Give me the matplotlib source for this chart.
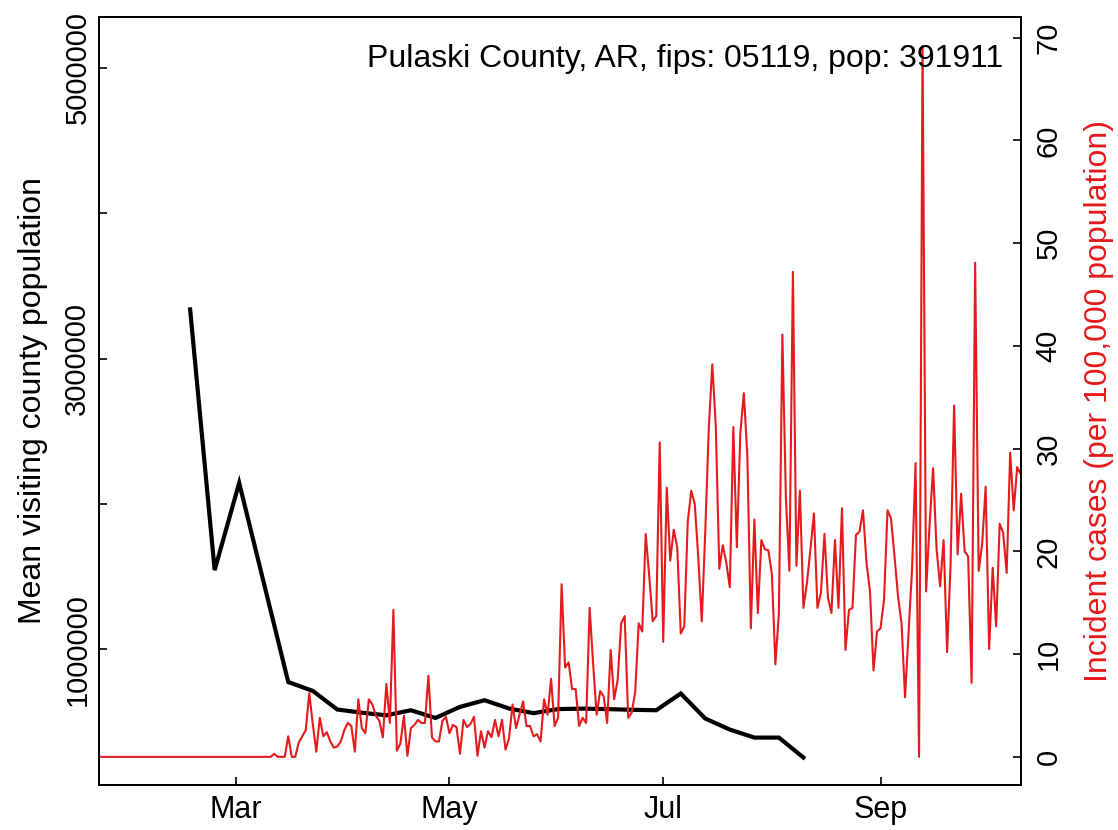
import numpy as np
import pandas as pd
import matplotlib
matplotlib.use("Agg")
import matplotlib.pyplot as plt

plt.rcParams['font.family'] = ['Liberation Sans', 'DejaVu Sans']

# ---------------- data ----------------
title_text = "Pulaski County, AR, fips: 05119, pop: 391911"
left_label = "Mean visiting county population"
right_label = "Incident cases (per 100,000 population)"

# weekly mean visiting county population (starting 2020-02-17)
visit_start = "2020-02-17"
visit_values = [3338000, 1545000, 2145000, 1460000, 776000, 715000, 587000,
                565000, 547000, 582000, 529000, 605000, 651000, 594000,
                562000, 590000, 593000, 590000, 585000, 582000, 697000,
                525000, 449000, 394000, 394000, 257000]

# daily incident cases per 100,000 (starting 2020-01-22)
case_start = "2020-01-22"
cases_early_zero = 50  # Jan 22 .. Mar 11 all zero
case_values = [0.0] * cases_early_zero + [
    0.3, 0, 0, 0, 2.0, 0, 0, 1.4, 2.0, 2.6,                       # Mar 12-21
    6.2, 3.2, 0.5, 3.8, 2.0, 2.4, 1.5, 0.9, 1.0, 1.5,             # Mar 22-31
    2.6, 3.3, 3.0, 0.5, 5.6, 2.8, 2.3, 5.6, 5.1, 4.0,             # Apr 1-10
    3.5, 1.9, 7.1, 3.3, 14.3, 0.6, 1.3, 4.0, 0.1, 2.8,            # Apr 11-20
    3.1, 3.6, 3.3, 3.3, 7.9, 1.9, 1.5, 1.5, 3.5, 3.9,             # Apr 21-30
    2.3, 3.1, 2.9, 0.3, 3.6, 2.9, 3.2, 3.9, 0.1, 2.5,             # May 1-10
    0.9, 2.5, 1.9, 3.6, 2.0, 3.6, 0.7, 1.8, 5.1, 2.8,             # May 11-20
    4.1, 5.4, 3.0, 3.0, 2.0, 2.2, 1.5, 5.6, 4.1, 7.6,             # May 21-30
    3.0, 3.8, 16.8, 8.7, 9.2, 6.6, 6.6, 3.0, 3.8, 3.3,            # May 31-Jun 9
    14.5, 9.0, 4.1, 6.4, 5.9, 3.3, 10.4, 5.6, 7.5, 13.0,          # Jun 10-19
    13.7, 3.8, 4.3, 6.3, 13.0, 12.2, 21.7, 17.6, 13.2, 13.7,      # Jun 20-29
    30.6, 11.2, 26.2, 19.1, 22.1, 20.4, 12.0, 12.7, 22.9, 25.9,   # Jun 30-Jul 9
    24.6, 19.4, 13.2, 22.0, 32.0, 38.2, 32.2, 18.3, 20.6, 18.9,   # Jul 10-19
    16.5, 32.1, 20.4, 31.5, 35.4, 29.3, 12.5, 23.1, 14.0, 21.1,   # Jul 20-29
    20.2, 20.1, 17.8, 9.0, 14.0, 41.1, 25.2, 18.1, 47.2, 18.6,    # Jul 30-Aug 8
    25.9, 14.5, 16.9, 20.2, 23.7, 14.5, 16.0, 21.7, 15.5, 14.0,   # Aug 9-18
    21.1, 14.5, 24.2, 10.4, 14.3, 14.5, 21.6, 21.9, 24.0, 18.9,   # Aug 19-28
    16.1, 8.4, 12.2, 12.5, 15.3, 24.0, 23.2, 19.5, 15.6, 13.0,    # Aug 29-Sep 7
    5.8, 12.0, 18.3, 28.6, 0.0, 69.2, 16.1, 22.6, 28.1, 20.2,     # Sep 8-17
    16.6, 21.1, 10.2, 18.8, 34.2, 19.7, 25.6, 20.0, 19.5, 7.2,    # Sep 18-27
    48.1, 18.1, 20.7, 26.3, 10.5, 18.4, 12.7, 22.7, 21.8, 17.9,   # Sep 28-Oct 7
    29.6, 24.0, 28.2, 27.5]                                       # Oct 8-11

month_ticks = ["2020-03-01", "2020-05-01", "2020-07-01", "2020-09-01"]
month_labels = ["Mar", "May", "Jul", "Sep"]
left_ticks = [1000000, 2000000, 3000000, 4000000, 5000000]
left_ticklabels = ["1000000", "", "3000000", "", "5000000"]
right_ticks = [0, 10, 20, 30, 40, 50, 60, 70]

# ---------------- figure ----------------
W, H = 1118, 830
fig = plt.figure(figsize=(W / 100, H / 100), dpi=100)
L, R, T, B = 99, 1020.7, 17.4, 785.3
ax = fig.add_axes([L / W, 1 - B / H, (R - L) / W, (B - T) / H])

case_dates = pd.date_range(case_start, periods=len(case_values), freq="D")
visit_dates = pd.date_range(visit_start, periods=len(visit_values), freq="7D")

red = "#E41A1C"
fs_tick = 21
fs_lab = 23

ax.plot(visit_dates, visit_values, color="black", lw=3.0, solid_joinstyle="miter",
        zorder=3)
ax.set_xlim(pd.Timestamp("2020-01-22"), pd.Timestamp("2020-10-11"))
ax.set_ylim(66000, 5345000)
ax.set_yticks(left_ticks)
ax.set_yticklabels(left_ticklabels, rotation=90, va="center")
ax.set_xticks(pd.to_datetime(month_ticks))
ax.set_xticklabels(month_labels)
ax.tick_params(axis="both", direction="in", length=6, width=1.2,
               labelsize=fs_tick, colors="black")
ax.tick_params(axis="x", labelsize=22, pad=7)
ax.tick_params(axis="y", pad=5.5)
for s in ax.spines.values():
    s.set_linewidth(1.3)

ax2 = ax.twinx()
ax2.plot(case_dates, case_values, color=red, lw=1.5, zorder=2)
ax2.set_ylim(-0.04 * max(case_values), 1.04 * max(case_values))
ax2.set_yticks(right_ticks)
ax2.set_yticklabels([str(t) for t in right_ticks], rotation=90, va="center")
ax2.tick_params(axis="y", direction="in", length=6, width=1.2,
                labelsize=fs_tick, pad=10)
for s in ax2.spines.values():
    s.set_linewidth(1.3)
ax2.set_xlim(pd.Timestamp("2020-01-22"), pd.Timestamp("2020-10-11"))

fig.text(1003 / W, 1 - 67 / H, title_text, ha="right", va="baseline",
         fontsize=fs_lab, color="black")
fig.text(33 / W, 1 - 401 / H, left_label, rotation=90, ha="center",
         va="center", fontsize=fs_lab, color="black")
fig.text(1099 / W, 1 - 401 / H, right_label, rotation=90, ha="center",
         va="center", fontsize=fs_lab, color=red)

fig.savefig("out.png", dpi=100)
